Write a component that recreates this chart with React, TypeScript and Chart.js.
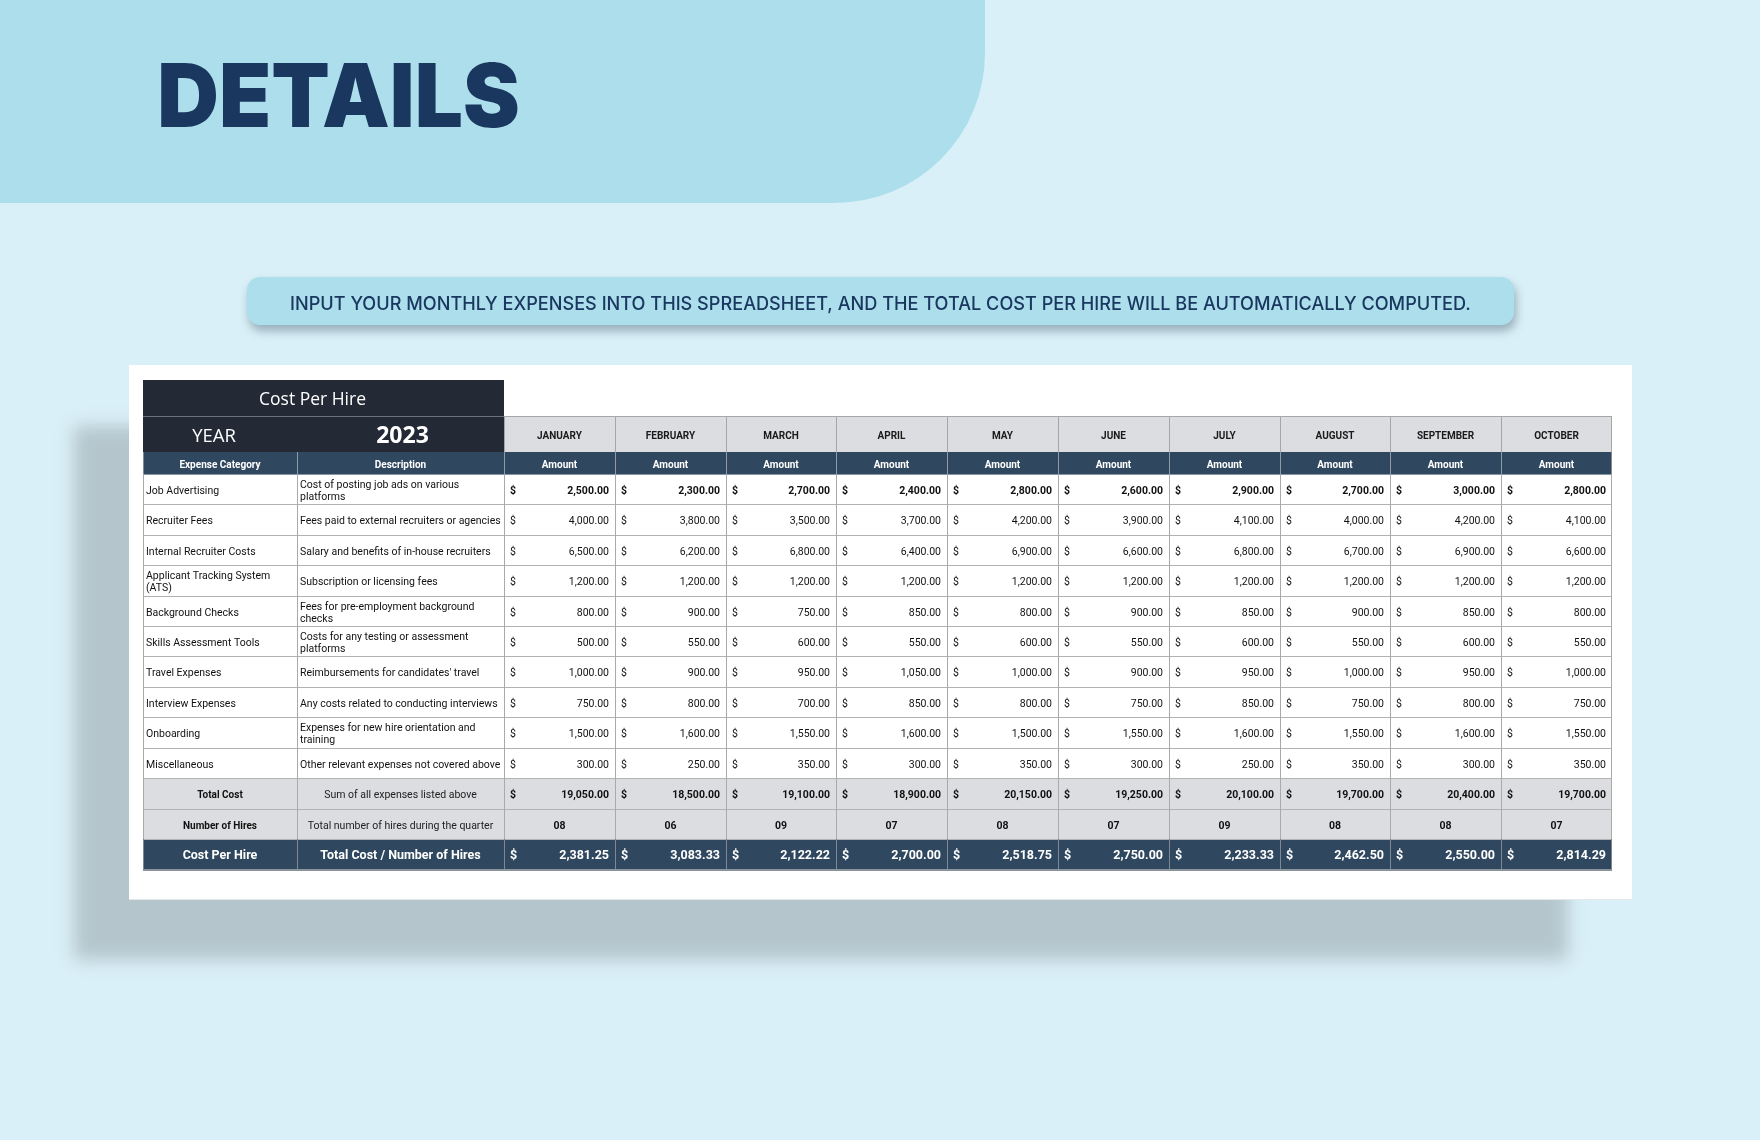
import React, { useEffect, useRef } from 'react';
import { Chart, registerables } from 'chart.js';

Chart.register(...registerables);

// ---------- content / data ----------
const pageTitle = 'DETAILS';
const bannerText =
  'INPUT YOUR MONTHLY EXPENSES INTO THIS SPREADSHEET, AND THE TOTAL COST PER HIRE WILL BE AUTOMATICALLY COMPUTED.';
const tableTitle = 'Cost Per Hire';
const yearLabel = 'YEAR';
const yearValue = '2023';
const headerLabels = ['Expense Category', 'Description', 'Amount'];

const months = ['JANUARY', 'FEBRUARY', 'MARCH', 'APRIL', 'MAY', 'JUNE', 'JULY', 'AUGUST', 'SEPTEMBER', 'OCTOBER'];

const categories = [
  'Job Advertising',
  'Recruiter Fees',
  'Internal Recruiter Costs',
  'Applicant Tracking System\n(ATS)',
  'Background Checks',
  'Skills Assessment Tools',
  'Travel Expenses',
  'Interview Expenses',
  'Onboarding',
  'Miscellaneous',
];

const descriptions = [
  'Cost of posting job ads on various\nplatforms',
  'Fees paid to external recruiters or agencies',
  'Salary and benefits of in-house recruiters',
  'Subscription or licensing fees',
  'Fees for pre-employment background\nchecks',
  'Costs for any testing or assessment\nplatforms',
  "Reimbursements for candidates' travel",
  'Any costs related to conducting interviews',
  'Expenses for new hire orientation and\ntraining',
  'Other relevant expenses not covered above',
];

const jobAdvertising = [2500, 2300, 2700, 2400, 2800, 2600, 2900, 2700, 3000, 2800];
const recruiterFees = [4000, 3800, 3500, 3700, 4200, 3900, 4100, 4000, 4200, 4100];
const internalRecruiterCosts = [6500, 6200, 6800, 6400, 6900, 6600, 6800, 6700, 6900, 6600];
const applicantTracking = [1200, 1200, 1200, 1200, 1200, 1200, 1200, 1200, 1200, 1200];
const backgroundChecks = [800, 900, 750, 850, 800, 900, 850, 900, 850, 800];
const skillsAssessment = [500, 550, 600, 550, 600, 550, 600, 550, 600, 550];
const travelExpenses = [1000, 900, 950, 1050, 1000, 900, 950, 1000, 950, 1000];
const interviewExpenses = [750, 800, 700, 850, 800, 750, 850, 750, 800, 750];
const onboarding = [1500, 1600, 1550, 1600, 1500, 1550, 1600, 1550, 1600, 1550];
const miscellaneous = [300, 250, 350, 300, 350, 300, 250, 350, 300, 350];

const expenseRows = [
  jobAdvertising,
  recruiterFees,
  internalRecruiterCosts,
  applicantTracking,
  backgroundChecks,
  skillsAssessment,
  travelExpenses,
  interviewExpenses,
  onboarding,
  miscellaneous,
];

const totalCost = [19050, 18500, 19100, 18900, 20150, 19250, 20100, 19700, 20400, 19700];
const numberOfHires = [8, 6, 9, 7, 8, 7, 9, 8, 8, 7];
const costPerHire = [2381.25, 3083.33, 2122.22, 2700.0, 2518.75, 2750.0, 2233.33, 2462.5, 2550.0, 2814.29];

const summaryLabels = ['Total Cost', 'Number of Hires', 'Cost Per Hire'];
const summaryDescriptions = [
  'Sum of all expenses listed above',
  'Total number of hires during the quarter',
  'Total Cost / Number of Hires',
];

// ---------- layout (scale units) ----------
const COL_UNITS = [1.39, 1.868, 1, 1, 1, 1, 1, 1, 1, 1, 1, 1];
const ROW_UNITS = [36, 36, 22, 30.4, 30.4, 30.4, 30.4, 30.4, 30.4, 30.4, 30.4, 30.4, 30.4, 31, 30, 31];

const W = 1760;
const H = 1140;

const C = {
  page: '#daf0f8',
  band: '#acdfeb',
  navyText: '#1a3760',
  dark: '#232a35',
  blue: '#30485f',
  gray: '#dcdde0',
  grid: '#b2b2b2',
  text: '#111111',
};

const fmt = (v: number) =>
  v.toLocaleString('en-US', { minimumFractionDigits: 2, maximumFractionDigits: 2 });
const pad2 = (v: number) => (v < 10 ? '0' + v : String(v));

function fitText(
  ctx: CanvasRenderingContext2D,
  text: string,
  font: string,
  left: number,
  baseline: number,
  width: number,
  capH: number,
  color: string
) {
  ctx.save();
  ctx.font = font;
  ctx.textAlign = 'left';
  ctx.textBaseline = 'alphabetic';
  const m = ctx.measureText(text);
  const w = m.actualBoundingBoxRight + m.actualBoundingBoxLeft;
  const sx = width / w;
  const sy = capH / m.actualBoundingBoxAscent;
  ctx.translate(left, baseline);
  ctx.scale(sx, sy);
  ctx.fillStyle = color;
  ctx.fillText(text, m.actualBoundingBoxLeft, 0);
  ctx.restore();
}

function drawText(
  ctx: CanvasRenderingContext2D,
  text: string,
  x: number,
  y: number,
  font: string,
  color: string,
  align: CanvasTextAlign,
  lineGap = 12
) {
  ctx.font = font;
  ctx.fillStyle = color;
  ctx.textAlign = align;
  ctx.textBaseline = 'middle';
  const lines = text.split('\n');
  const start = y - ((lines.length - 1) * lineGap) / 2;
  lines.forEach((ln, i) => ctx.fillText(ln, x, start + i * lineGap));
}

const pagePlugin = {
  id: 'costPerHirePage',
  afterDraw(chart: any) {
    const ctx: CanvasRenderingContext2D = chart.ctx;
    const xs = chart.scales.x;
    const ys = chart.scales.y;

    ctx.save();
    // page background
    ctx.fillStyle = C.page;
    ctx.fillRect(0, 0, W, H);

    // header band with rounded bottom-right corner
    ctx.fillStyle = C.band;
    ctx.beginPath();
    ctx.moveTo(0, 0);
    ctx.lineTo(985, 0);
    ctx.lineTo(985, 53);
    ctx.ellipse(835, 53, 150, 150, 0, 0, Math.PI / 2);
    ctx.lineTo(0, 203);
    ctx.closePath();
    ctx.fill();

    fitText(ctx, pageTitle, '900 90px Inter', 161, 127, 357, 65, C.navyText);

    // banner
    ctx.save();
    ctx.shadowColor = 'rgba(70,95,110,0.45)';
    ctx.shadowBlur = 10;
    ctx.shadowOffsetY = 6;
    ctx.shadowOffsetX = 2;
    ctx.fillStyle = C.band;
    ctx.beginPath();
    (ctx as any).roundRect(247, 277, 1267, 48, 13);
    ctx.fill();
    ctx.restore();
    fitText(ctx, bannerText, '500 19px Inter', 291, 309.5, 1179, 13.5, C.navyText);

    // card shadow
    ctx.save();
    (ctx as any).filter = 'blur(9px)';
    ctx.fillStyle = '#b4c5cc';
    ctx.fillRect(74, 426, 1494, 534);
    ctx.restore();

    // card
    ctx.fillStyle = '#ffffff';
    ctx.fillRect(129, 365, 1503, 535);
    ctx.fillStyle = '#e4eaec';
    ctx.fillRect(129, 899, 1503, 1);

    // ---------- table ----------
    const colEdges = [0];
    COL_UNITS.forEach((u) => colEdges.push(colEdges[colEdges.length - 1] + u));
    const rowEdges = [0];
    ROW_UNITS.forEach((u) => rowEdges.push(rowEdges[rowEdges.length - 1] + u));
    const cx = (i: number) => Math.round(xs.getPixelForValue(colEdges[i]));
    const ry = (i: number) => Math.round(ys.getPixelForValue(rowEdges[i]));
    const nCols = COL_UNITS.length;
    const left = cx(0);
    const right = cx(nCols);
    const descR = cx(2);

    // title row (merged over category+description)
    ctx.fillStyle = C.dark;
    ctx.fillRect(left, ry(0), descR - left, ry(2) - ry(0));
    ctx.fillStyle = '#6d737b';
    ctx.fillRect(left, ry(1), descR - left, 1);
    drawText(ctx, tableTitle, (left + descR) / 2 - 11, (ry(0) + ry(1)) / 2 + 2.5, '400 17.5px "Open Sans"', '#ffffff', 'center');
    drawText(ctx, yearLabel, (cx(0) + cx(1)) / 2 - 6, (ry(1) + ry(2)) / 2 + 2.5, '400 18.5px "Open Sans"', '#ffffff', 'center');
    drawText(ctx, yearValue, (cx(1) + cx(2)) / 2 + 2, (ry(1) + ry(2)) / 2 + 2.5, '700 23px "Open Sans"', '#ffffff', 'center');

    // month header cells
    ctx.fillStyle = C.gray;
    ctx.fillRect(descR, ry(1), right - descR, ry(2) - ry(1));
    months.forEach((m, i) => {
      const x0 = cx(2 + i);
      const x1 = cx(3 + i);
      drawText(ctx, m, (x0 + x1) / 2, (ry(1) + ry(2)) / 2 + 2, '700 10px Roboto', '#1a1a1a', 'center');
    });

    // header row
    ctx.fillStyle = C.blue;
    ctx.fillRect(left, ry(2), right - left, ry(3) - ry(2));
    const hy = (ry(2) + ry(3)) / 2 + 2;
    drawText(ctx, headerLabels[0], (cx(0) + cx(1)) / 2, hy, '700 10px Roboto', '#ffffff', 'center');
    drawText(ctx, headerLabels[1], (cx(1) + cx(2)) / 2, hy, '700 10px Roboto', '#ffffff', 'center');
    for (let i = 0; i < months.length; i++) {
      drawText(ctx, headerLabels[2], (cx(2 + i) + cx(3 + i)) / 2, hy, '700 10px Roboto', '#ffffff', 'center');
    }

    // data rows
    expenseRows.forEach((vals, r) => {
      const ri = 3 + r;
      const ym = (ry(ri) + ry(ri + 1)) / 2 + 2;
      const bold = r === 0;
      drawText(ctx, categories[r], cx(0) + 3, ym, '400 10.5px Roboto', C.text, 'left');
      drawText(ctx, descriptions[r], cx(1) + 3, ym, '400 10.5px Roboto', C.text, 'left');
      vals.forEach((v, i) => {
        const x0 = cx(2 + i);
        const x1 = cx(3 + i);
        const f = bold ? '700 10.5px Roboto' : '400 10.5px Roboto';
        drawText(ctx, '$', x0 + 6, ym, f, C.text, 'left');
        drawText(ctx, fmt(v), x1 - 6, ym, f, C.text, 'right');
      });
    });

    // total cost row
    {
      const ri = 13;
      ctx.fillStyle = C.gray;
      ctx.fillRect(left, ry(ri), right - left, ry(ri + 2) - ry(ri));
      const ym = (ry(ri) + ry(ri + 1)) / 2 + 2;
      drawText(ctx, summaryLabels[0], (cx(0) + cx(1)) / 2, ym, '700 10px Roboto', C.text, 'center');
      drawText(ctx, summaryDescriptions[0], (cx(1) + cx(2)) / 2, ym, '400 10.5px Roboto', '#222', 'center');
      totalCost.forEach((v, i) => {
        const x0 = cx(2 + i);
        const x1 = cx(3 + i);
        drawText(ctx, '$', x0 + 6, ym, '700 10.5px Roboto', C.text, 'left');
        drawText(ctx, fmt(v), x1 - 6, ym, '700 10.5px Roboto', C.text, 'right');
      });
    }
    // number of hires row
    {
      const ri = 14;
      const ym = (ry(ri) + ry(ri + 1)) / 2 + 2;
      drawText(ctx, summaryLabels[1], (cx(0) + cx(1)) / 2, ym, '700 10px Roboto', C.text, 'center');
      drawText(ctx, summaryDescriptions[1], (cx(1) + cx(2)) / 2, ym, '400 10.5px Roboto', '#222', 'center');
      numberOfHires.forEach((v, i) => {
        const x0 = cx(2 + i);
        const x1 = cx(3 + i);
        drawText(ctx, pad2(v), (x0 + x1) / 2, ym, '700 10.5px Roboto', C.text, 'center');
      });
    }
    // cost per hire row
    {
      const ri = 15;
      ctx.fillStyle = C.blue;
      ctx.fillRect(left, ry(ri), right - left, ry(ri + 1) - ry(ri));
      const ym = (ry(ri) + ry(ri + 1)) / 2 + 1;
      drawText(ctx, summaryLabels[2], (cx(0) + cx(1)) / 2, ym, '700 12.5px Roboto', '#ffffff', 'center');
      drawText(ctx, summaryDescriptions[2], (cx(1) + cx(2)) / 2, ym, '700 12.5px Roboto', '#ffffff', 'center');
      costPerHire.forEach((v, i) => {
        const x0 = cx(2 + i);
        const x1 = cx(3 + i);
        drawText(ctx, '$', x0 + 6, ym, '700 12.5px Roboto', '#ffffff', 'left');
        drawText(ctx, fmt(v), x1 - 6, ym, '700 12.5px Roboto', '#ffffff', 'right');
      });
    }

    // grid lines
    const hLine = (y: number, x0: number, x1: number, color: string) => {
      ctx.fillStyle = color;
      ctx.fillRect(x0, y, x1 - x0, 1);
    };
    const vLine = (x: number, y0: number, y1: number, color: string) => {
      ctx.fillStyle = color;
      ctx.fillRect(x, y0, 1, y1 - y0);
    };
    // month header block
    hLine(ry(1), descR, right, '#a6a6a6');
    for (let i = 2; i <= nCols; i++) vLine(i === nCols ? cx(i) - 1 : cx(i), ry(1), ry(2), '#a6a6a6');
    // body
    for (let r = 3; r <= 15; r++) hLine(ry(r), left, right, r === 3 ? '#8a96a2' : C.grid);
    for (let i = 0; i <= nCols; i++) {
      const x = i === nCols ? cx(i) - 1 : cx(i);
      vLine(x, ry(2), ry(3), i === 0 || i === nCols ? '#7f8b96' : '#8e9aa6');
      vLine(x, ry(3), ry(15), '#aaaaaa');
      vLine(x, ry(15), ry(16), '#7d8893');
    }
    ctx.fillStyle = '#8c949b';
    ctx.fillRect(left, ry(16) - 1, right - left, 2);

    ctx.restore();
  },
};

export default function App() {
  const ref = useRef<HTMLCanvasElement | null>(null);

  useEffect(() => {
    if (!ref.current) return;
    const xMax = COL_UNITS.reduce((a, b) => a + b, 0);
    const yMax = ROW_UNITS.reduce((a, b) => a + b, 0);
    const chart = new Chart(ref.current, {
      type: 'scatter',
      data: { datasets: [] },
      options: {
        animation: false,
        responsive: false,
        devicePixelRatio: 1,
        events: [],
        layout: { padding: { left: 143, top: 380, right: 148, bottom: 270 } },
        scales: {
          x: { type: 'linear', min: 0, max: xMax, offset: false, display: false },
          y: { type: 'linear', min: 0, max: yMax, reverse: true, offset: false, display: false },
        },
        plugins: { legend: { display: false }, tooltip: { enabled: false }, title: { display: false } },
      },
      plugins: [pagePlugin],
    });
    return () => chart.destroy();
  }, []);

  return (
    <div style={{ position: 'fixed', left: 0, top: 0, width: W, height: H, overflow: 'hidden' }}>
      <canvas ref={ref} width={W} height={H} style={{ display: 'block', width: W, height: H }} />
    </div>
  );
}
